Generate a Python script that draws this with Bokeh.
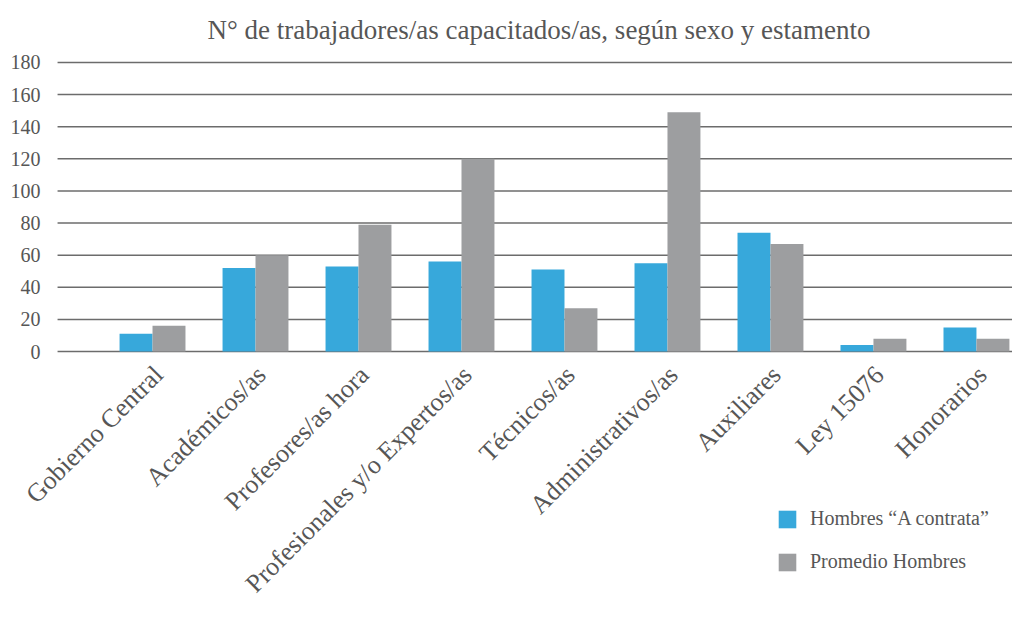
import numpy as np
from bokeh.plotting import figure
from bokeh.models import ColumnDataSource, Range1d, Legend, LegendItem
from bokeh.core.properties import value
from bokeh.transform import dodge
from bokeh.embed import file_html
from bokeh.resources import INLINE

categories = ["Gobierno Central", "Académicos/as", "Profesores/as hora",
              "Profesionales y/o Expertos/as", "Técnicos/as", "Administrativos/as",
              "Auxiliares", "Ley 15076", "Honorarios"]
hombres_contrata = [11, 52, 53, 56, 51, 55, 74, 4, 15]
promedio_hombres = [16, 60, 79, 120, 27, 149, 67, 8, 8]
series_names = ["Hombres \u201cA contrata\u201d", "Promedio Hombres"]
y_ticks = [0, 20, 40, 60, 80, 100, 120, 140, 160, 180]

FONT = "Liberation Serif"
TXT = "#565656"
BLUE = "#37a8db"
GRAY = "#9d9ea0"

# plot ranges (the frame spans the whole canvas; the value axis sits inside it)
X_START, X_END = -1.476, 8.350
GRID_X0 = -0.922
Y_START, Y_END = -159.44, 187.47

idx = list(range(len(categories)))
src = ColumnDataSource(dict(x=idx, a=hombres_contrata, b=promedio_hombres,
                            base=[0] * len(idx), label=categories))
tick_src = ColumnDataSource(dict(y=y_ticks, txt=[str(t) for t in y_ticks],
                                 x0=[GRID_X0] * len(y_ticks), x1=[X_END] * len(y_ticks)))

p = figure(width=1012, height=607, output_backend="svg", toolbar_location=None,
           x_range=Range1d(X_START, X_END), y_range=Range1d(Y_START, Y_END),
           x_axis_location=None, y_axis_location=None,
           title="N\u00b0 de trabajadores/as capacitados/as, seg\u00fan sexo y estamento",
           min_border_left=0, min_border_right=0, min_border_top=50, min_border_bottom=0)

p.title.align = "left"
p.title.offset = 207
p.title.standoff = 12
p.title.text_font = FONT
p.title.text_font_style = "normal"
p.title.text_font_size = "27px"
p.title.text_color = TXT

p.outline_line_color = None
p.xgrid.visible = False
p.ygrid.visible = False

# horizontal grid lines and value labels
p.segment(x0="x0", x1="x1", y0="y", y1="y", source=tick_src,
          line_color="#6c6c6c", line_width=1.5)
p.text(x="x0", y="y", text="txt", source=tick_src, text_align="right",
       text_baseline="middle", x_offset=-17, text_font=value(FONT),
       text_font_size="20px", text_color=TXT)

r1 = p.vbar(x=dodge("x", -0.16, range=p.x_range), top="a", width=0.32, source=src,
            fill_color=BLUE, line_color=None)
r2 = p.vbar(x=dodge("x", 0.16, range=p.x_range), top="b", width=0.32, source=src,
            fill_color=GRAY, line_color=None)

# category labels, rotated 45 degrees, hanging below the zero line
p.text(x="x", y="base", text="label", source=src, angle=np.pi / 4,
       text_align="right", text_baseline="middle", x_offset=6, y_offset=19,
       text_font=value(FONT), text_font_size="26px", text_color=TXT)

legend = Legend(items=[LegendItem(label=series_names[0], renderers=[r1]),
                       LegendItem(label=series_names[1], renderers=[r2])],
                location=(776, 34), orientation="vertical",
                label_text_font=FONT, label_text_font_size="20px", label_text_color=TXT,
                glyph_width=22, glyph_height=22, label_height=22, spacing=20,
                label_standoff=12,
                background_fill_alpha=0, border_line_color=None, padding=0, margin=0)
p.add_layout(legend, "center")

open("out.html", "w").write(file_html(p, INLINE))
